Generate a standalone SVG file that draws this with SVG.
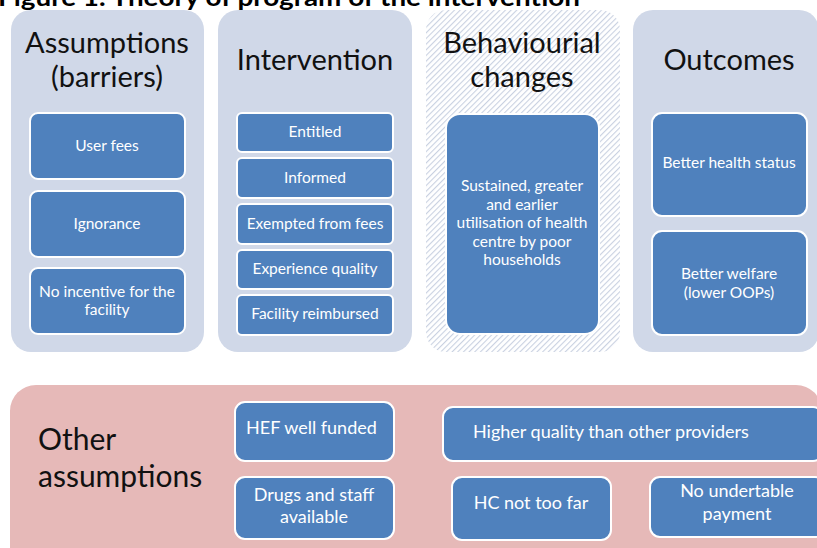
<svg xmlns="http://www.w3.org/2000/svg" width="817" height="548" viewBox="0 0 817 548">
  <defs>
    <pattern id="hatch" patternUnits="userSpaceOnUse" width="4" height="4" patternTransform="rotate(45)">
      <rect width="4" height="4" fill="#ffffff"/>
      <line x1="0" y1="0" x2="0" y2="4" stroke="#c9d1e1" stroke-width="2.2"/>
    </pattern>
  </defs>
  <style>
    text { font-family: Lato, "Open Sans", "Liberation Sans", sans-serif; }
    .title { font-size: 24px; font-weight: bold; fill: #000; }
    .col { fill: #d0d8e8; }
    .head { font-size: 29px; fill: #111; text-anchor: middle; }
    .box { fill: #4f81bd; stroke: #ffffff; stroke-width: 2; }
    .lbl { font-size: 15.5px; fill: #ffffff; text-anchor: middle; }
    .lbl2 { font-size: 18px; fill: #ffffff; text-anchor: middle; }
    .other { fill: #e6b9b8; }
    .ohead { font-size: 30px; fill: #111; }
  </style>
  <rect width="817" height="548" fill="#ffffff"/>

  <text class="title" x="-2" y="6" textLength="582" lengthAdjust="spacingAndGlyphs">Figure 1. Theory of program of the intervention</text>

  <!-- Column: assumptions (barriers) -->
  <g id="assumptions">
    <rect class="col" x="11" y="10" width="193" height="342" rx="20"/>
    <text class="head" x="107" y="53">Assumptions</text>
    <text class="head" x="107" y="87">(barriers)</text>
    <g id="user-fees">
      <rect class="box" x="30" y="113" width="155" height="66" rx="8"/>
      <text class="lbl" x="107" y="151">User fees</text>
    </g>
    <g id="ignorance">
      <rect class="box" x="30" y="191" width="155" height="66" rx="8"/>
      <text class="lbl" x="107" y="229">Ignorance</text>
    </g>
    <g id="no-incentive">
      <rect class="box" x="30" y="268" width="155" height="66" rx="8"/>
      <text class="lbl" x="107" y="297">No incentive for the</text>
      <text class="lbl" x="107" y="315">facility</text>
    </g>
  </g>

  <!-- Column: intervention -->
  <g id="intervention">
    <rect class="col" x="218" y="10" width="194" height="342" rx="20"/>
    <text class="head" x="315" y="70">Intervention</text>
    <g id="entitled">
      <rect class="box" x="237" y="113" width="156" height="39" rx="5"/>
      <text class="lbl" x="315" y="137">Entitled</text>
    </g>
    <g id="informed">
      <rect class="box" x="237" y="158" width="156" height="40" rx="5"/>
      <text class="lbl" x="315" y="183">Informed</text>
    </g>
    <g id="exempted">
      <rect class="box" x="237" y="204" width="156" height="40" rx="5"/>
      <text class="lbl" x="315" y="229">Exempted from fees</text>
    </g>
    <g id="experience">
      <rect class="box" x="237" y="250" width="156" height="39" rx="5"/>
      <text class="lbl" x="315" y="274">Experience quality</text>
    </g>
    <g id="reimbursed">
      <rect class="box" x="237" y="295" width="156" height="40" rx="5"/>
      <text class="lbl" x="315" y="319">Facility reimbursed</text>
    </g>
  </g>

  <!-- Column: behavioural changes (hatched) -->
  <g id="behaviour">
    <rect x="426" y="10" width="194" height="342" rx="20" fill="url(#hatch)"/>
    <text class="head" x="522" y="53">Behaviourial</text>
    <text class="head" x="522" y="87">changes</text>
    <g id="utilisation">
      <rect class="box" x="446" y="114" width="153" height="220" rx="14"/>
      <text class="lbl" x="522" y="191">Sustained, greater</text>
      <text class="lbl" x="522" y="210">and earlier</text>
      <text class="lbl" x="522" y="228">utilisation of health</text>
      <text class="lbl" x="522" y="247">centre by poor</text>
      <text class="lbl" x="522" y="265">households</text>
    </g>
  </g>

  <!-- Column: outcomes -->
  <g id="outcomes">
    <rect class="col" x="633" y="10" width="186" height="342" rx="20"/>
    <text class="head" x="729" y="70">Outcomes</text>
    <g id="health-status">
      <rect class="box" x="652" y="113" width="155" height="103" rx="10"/>
      <text class="lbl" x="729" y="168">Better health status</text>
    </g>
    <g id="welfare">
      <rect class="box" x="652" y="231" width="155" height="104" rx="10"/>
      <text class="lbl" x="729" y="279">Better welfare</text>
      <text class="lbl" x="729" y="298">(lower OOPs)</text>
    </g>
  </g>

  <!-- Band: other assumptions -->
  <g id="other-assumptions">
    <rect class="other" x="10" y="385" width="812" height="190" rx="26"/>
    <text class="ohead" x="38" y="450">Other</text>
    <text class="ohead" x="38" y="487">assumptions</text>
    <g id="hef-funded">
      <rect class="box" x="235" y="402" width="159" height="59" rx="10"/>
      <text class="lbl2" x="246" y="434" style="text-anchor:start">HEF well funded</text>
    </g>
    <g id="drugs-staff">
      <rect class="box" x="235" y="477" width="159" height="62" rx="10"/>
      <text class="lbl2" x="314" y="501">Drugs and staff</text>
      <text class="lbl2" x="314" y="523">available</text>
    </g>
    <g id="higher-quality">
      <rect class="box" x="443" y="407" width="380" height="54" rx="10"/>
      <text class="lbl2" x="473" y="438" style="text-anchor:start">Higher quality than other providers</text>
    </g>
    <g id="hc-near">
      <rect class="box" x="452" y="477" width="159" height="63" rx="10"/>
      <text class="lbl2" x="531" y="509">HC not too far</text>
    </g>
    <g id="no-undertable">
      <rect class="box" x="650" y="477" width="175" height="60" rx="10"/>
      <text class="lbl2" x="737" y="497">No undertable</text>
      <text class="lbl2" x="737" y="520">payment</text>
    </g>
  </g>
</svg>
